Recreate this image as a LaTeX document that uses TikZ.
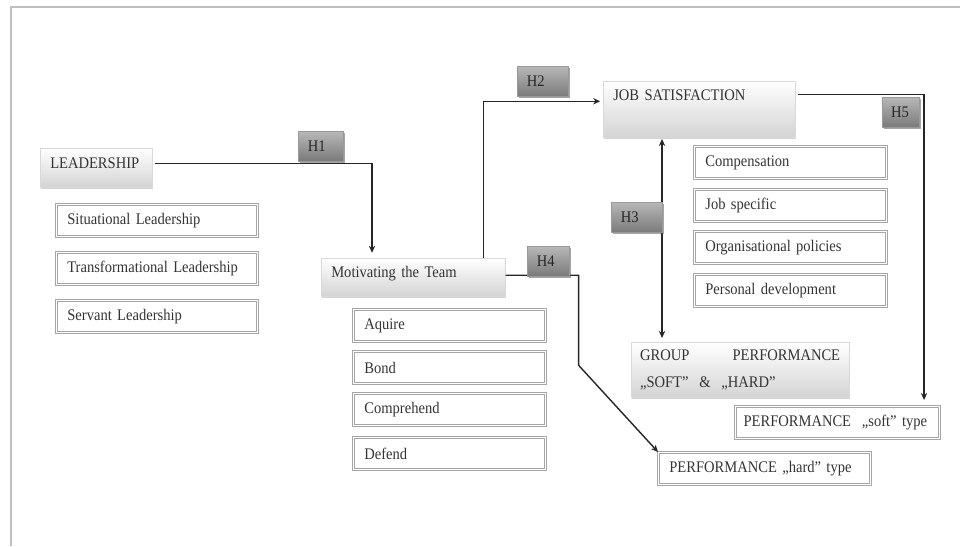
\documentclass[tikz,border=0pt]{standalone}
\usepackage{fontspec}
\setmainfont{Liberation Serif}[FakeStretch=0.9]
\usetikzlibrary{arrows.meta,shadows}

\begin{document}
\begin{tikzpicture}[x=0.025cm,y=-0.025cm,
    every node/.style={font=\fontsize{11.5}{14}\selectfont, text=black!80},
    txtbox/.style={anchor=north west, draw=black!35, double=white, double distance=0.9pt, line width=0.8pt,
        inner xsep=0.27cm, inner ysep=0pt, minimum height=0.8cm, align=left, text width=#1},
    grbox/.style={anchor=north west, draw=black!15, top color=white, bottom color=black!17,
        drop shadow={shadow xshift=0.6pt, shadow yshift=-1.2pt, fill=black!35},
        inner xsep=0.25cm, inner ysep=0pt, align=left, text width=#1},
    hyp/.style={anchor=north west, draw=black!40, top color=black!28, bottom color=black!52,
        drop shadow={shadow xshift=1pt, shadow yshift=-1.5pt, fill=black!70},
        inner xsep=0.24cm, inner ysep=0pt, minimum height=0.74cm, align=left, text width=#1, text=black!85},
    link/.style={draw=black!85, line width=1pt, -{Stealth[length=5pt,width=4.5pt]}},
    dlink/.style={link, {Stealth[length=5pt,width=4.5pt]}-{Stealth[length=5pt,width=4.5pt]}}
  ]
  \useasboundingbox (0,0) rectangle (960,546);
  \draw[black!25, line width=1.2pt] (11,546) -- (11,7) -- (960,7);

  % leadership
  \node[grbox=2.3cm, minimum height=0.975cm, text depth=0.25cm] (lead) at (40,148) {LEADERSHIP};
  \node[txtbox=4.48cm] (sit) at (56,204) {Situational Leadership};
  \node[txtbox=4.48cm] (trans) at (56,252) {Transformational Leadership};
  \node[txtbox=4.48cm] (serv) at (56,300) {Servant Leadership};

  % motivation
  \node[grbox=4.1cm, minimum height=0.95cm, text depth=0.25cm] (mot) at (321,258) {Motivating the Team};
  \node[txtbox=4.26cm] (acq) at (353,309) {Aquire};
  \node[txtbox=4.26cm] (bond) at (353,351) {Bond};
  \node[txtbox=4.26cm] (compr) at (353,393) {Comprehend};
  \node[txtbox=4.26cm] (def) at (353,437) {Defend};

  % satisfaction and performance
  \node[grbox=4.3cm, minimum height=1.4cm, text depth=0.7cm] (job) at (603,81) {JOB SATISFACTION};
  \node[txtbox=4.26cm] (pay) at (694,146) {Compensation};
  \node[txtbox=4.26cm] (spec) at (694,189) {Job specific};
  \node[txtbox=4.26cm] (pol) at (694,231) {Organisational policies};
  \node[txtbox=4.26cm] (dev) at (694,274) {Personal development};
  \node[grbox=5cm, minimum height=1.375cm, inner xsep=0.22cm, font=\fontsize{11.5}{19}\selectfont]
      (group) at (631,342) {GROUP\hfill PERFORMANCE\\„SOFT”\ \ \&\ \ „HARD”};
  \node[txtbox=4.7cm, inner xsep=0.2cm] (soft) at (735,406) {PERFORMANCE\ \ „soft” type};
  \node[txtbox=4.76cm] (hard) at (658,452) {PERFORMANCE „hard” type};

  % connectors
  \draw[link] ([xshift=2pt,yshift=0.11cm]lead.east) -| ([xshift=1.275cm,yshift=0.13cm]mot.north west);
  \draw[link] ([xshift=-0.55cm]mot.north east) |- ([xshift=-2pt,yshift=0.2cm]job.west);
  \coordinate (jobfoot) at ([xshift=1.475cm,yshift=-1pt]job.south west);
  \draw[dlink] (jobfoot) -- ([yshift=0.1cm]jobfoot |- group.north);
  \draw[link] ([yshift=0.05cm]mot.east) -- ++(73,0) -- ++(0,90) -- (hard.north west);
  \draw[link] ([xshift=2pt,yshift=0.375cm]job.east) -| ([xshift=4.725cm,yshift=0.15cm]soft.north west);

  % hypotheses
  \node[hyp=0.65cm] (h1) at (298,131) {H1};
  \node[hyp=0.8cm] (h2) at (517,66) {H2};
  \node[hyp=0.8cm] (h3) at (611,202) {H3};
  \node[hyp=0.57cm] (h4) at (527,246) {H4};
  \node[hyp=0.48cm, inner xsep=0.22cm] (h5) at (882,97) {H5};
\end{tikzpicture}
\end{document}
